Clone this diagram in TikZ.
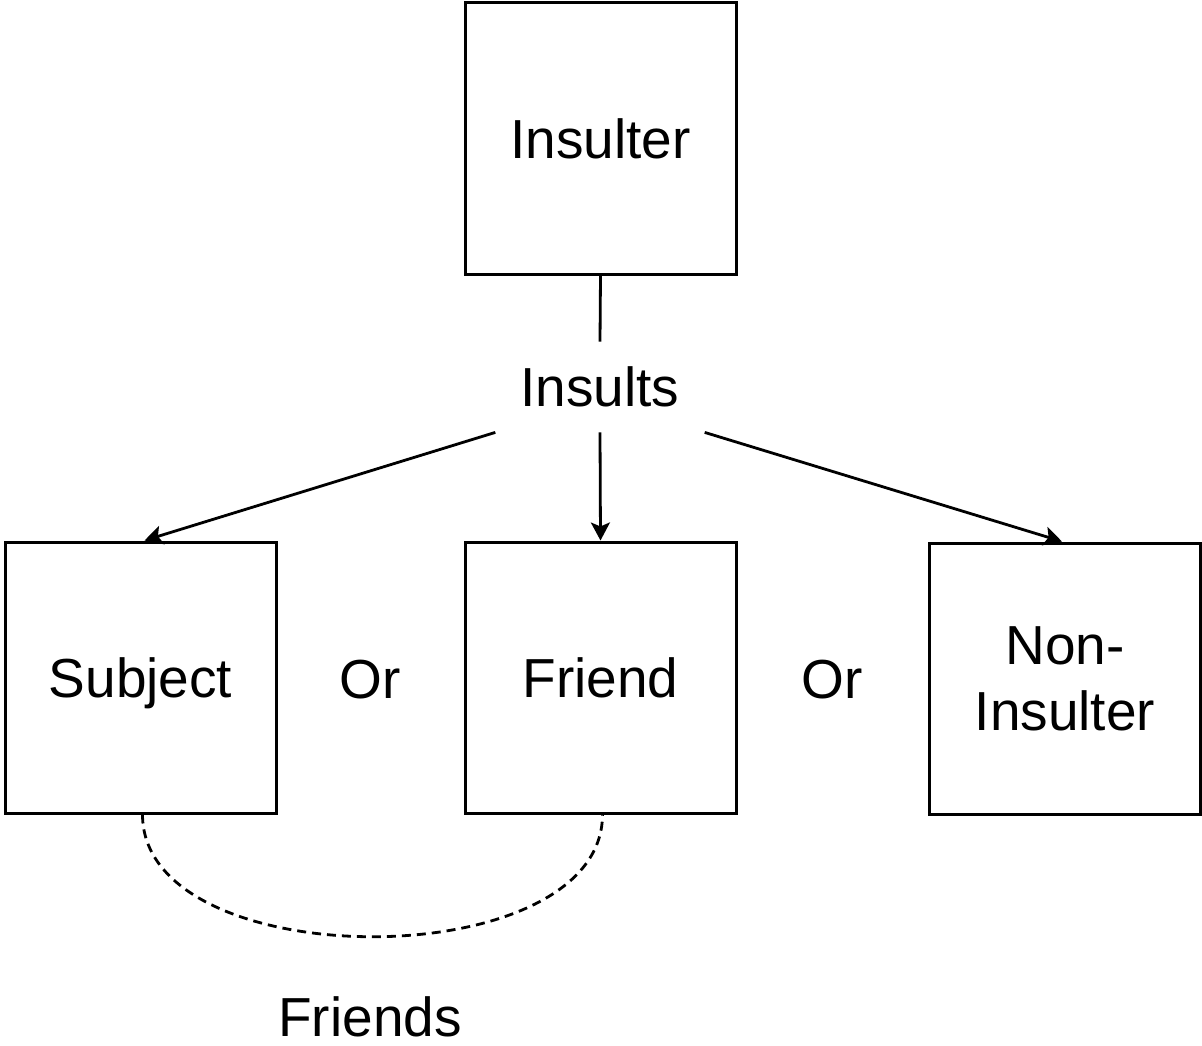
\documentclass[tikz,border=0pt]{standalone}
\usepackage{fontspec}
\setmainfont{Liberation Sans}
\usetikzlibrary{arrows.meta}
\begin{document}
\begin{tikzpicture}[x=1pt,y=-1pt,
  box/.style={draw,line width=3pt,minimum width=271pt,minimum height=271pt,inner sep=0pt,align=center,font=\fontsize{55}{66}\selectfont},
  lbl/.style={inner sep=0pt,font=\fontsize{55}{66}\selectfont},
  conn/.style={line width=2.8pt},
  arr/.style={conn,-{Stealth[length=18pt,width=19pt,inset=4pt]}}]
\useasboundingbox (0,0) rectangle (1202,1046);
\node[box] (insulter) at (600.5,138.5) {Insulter};
\node[box] (subject) at (140.5,677.5) {Sub\smash{j}ect};
\node[box] (friend) at (600.5,677.5) {Friend};
\node[box] (non) at (1065,678.5) {Non-\\Insulter};
\node[lbl,inner sep=25pt] (insults) at (600,387) {Insults};
\node[lbl] (or1) at (370,680) {Or};
\node[lbl] (or2) at (832,680) {Or};
\node[lbl] (friends) at (370,1017) {Friends};
\draw[conn] (insulter.south) -- (insults.north);
\draw[arr] (insults.south west) -- ([xshift=4pt]subject.north);
\draw[arr] (insults.south) -- (friend.north);
\draw[arr] (insults.south east) -- ([xshift=-3pt]non.north);
\draw[conn,dash pattern=on 9pt off 6pt] ([xshift=2pt]subject.south) .. controls ([xshift=2pt,yshift=-163pt]subject.south) and ([xshift=2pt,yshift=-163pt]friend.south) .. ([xshift=2pt]friend.south);
\end{tikzpicture}
\end{document}
